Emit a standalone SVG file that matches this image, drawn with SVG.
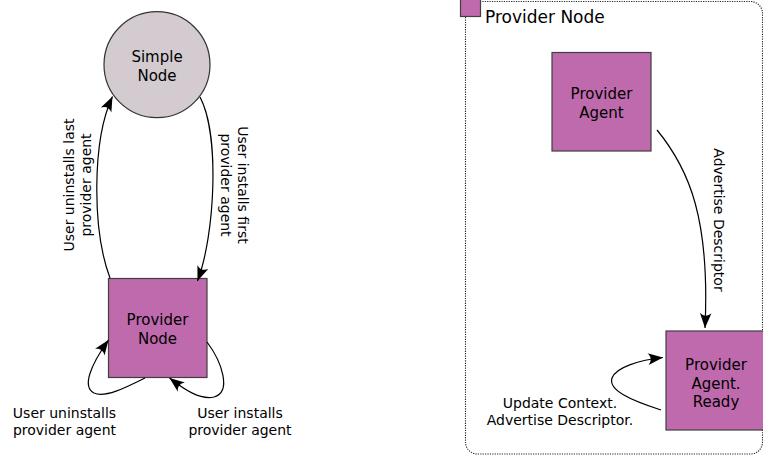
<svg xmlns="http://www.w3.org/2000/svg" width="763" height="456" viewBox="0 0 763 456">
<style>
  text { font-family: "DejaVu Sans", "Liberation Sans", sans-serif; fill: #000; }
  .nt { font-size: 15px; text-anchor: middle; }
  .lb { font-size: 14px; text-anchor: middle; }
  .box { fill: #bf6aad; stroke: #3f3f3f; stroke-width: 1.2; }
  .edge { fill: none; stroke: #000; stroke-width: 1.2; marker-end: url(#arr); }
</style>
<defs>
  <marker id="arr" markerUnits="userSpaceOnUse" orient="auto" viewBox="-16 -7 17 14" refX="0" refY="0" markerWidth="17" markerHeight="14" overflow="visible">
    <path d="M0,0 L-15,-5.8 C-11.5,-2 -11.5,2 -15,5.8 Z" fill="#000"/>
  </marker>
</defs>
<rect width="763" height="456" fill="#fff"/>

<g id="container">
  <rect x="465.5" y="1.5" width="297" height="452.5" rx="12" ry="12" fill="none" stroke="#222" stroke-width="1.1" stroke-dasharray="1.2,1.2"/>
  <rect x="460.5" y="-4" width="20" height="20.5" class="box"/>
  <text x="485" y="23" style="font-size:17px">Provider Node</text>
</g>

<g id="simple-node">
  <circle cx="157" cy="64.7" r="53" fill="#d3cbcf" stroke="#333" stroke-width="1.2"/>
  <text class="nt" x="157" y="62">Simple</text>
  <text class="nt" x="157" y="81">Node</text>
</g>

<g id="provider-node">
  <rect x="108.5" y="278.5" width="98.5" height="99" class="box"/>
  <text class="nt" x="157.5" y="324.5">Provider</text>
  <text class="nt" x="157.5" y="343.5">Node</text>
</g>

<g id="provider-agent">
  <rect x="552" y="52.5" width="99" height="98.5" class="box"/>
  <text class="nt" x="601.5" y="99">Provider</text>
  <text class="nt" x="601.5" y="117.5">Agent</text>
</g>

<g id="provider-agent-ready">
  <rect x="666" y="331" width="99" height="99" class="box"/>
  <text class="nt" x="716" y="370">Provider</text>
  <text class="nt" x="716" y="388.5">Agent.</text>
  <text class="nt" x="716" y="407">Ready</text>
</g>

<g id="connectors">
  <path class="edge" d="M110,278 C92,230 92,140 112.5,96.5"/>
  <path class="edge" d="M200,97 C220,135 215,235 197.5,281"/>
  <path class="edge" d="M145,378 C125,388 105,398 94,393 C82,387 90,366 108.5,340"/>
  <path class="edge" d="M207,342 C222,362 232,392 214,397 C200,400 185,390 169.5,378"/>
  <path class="edge" d="M657,130 C690,170 710,220 705,328"/>
  <path class="edge" d="M661,410 C630,400 608,390 612,378 C616,367 640,360 663,357.5"/>

  <text class="lb" transform="translate(74,185) rotate(-90)">User uninstalls last</text>
  <text class="lb" transform="translate(91,185) rotate(-90)">provider agent</text>
  <text class="lb" transform="translate(238,185) rotate(90)">User installs first</text>
  <text class="lb" transform="translate(221,185) rotate(90)">provider agent</text>
  <text class="lb" transform="translate(713.5,220) rotate(90)">Advertise Descriptor</text>

  <text class="lb" x="64.5" y="418">User uninstalls</text>
  <text class="lb" x="64.5" y="435">provider agent</text>
  <text class="lb" x="240" y="418">User installs</text>
  <text class="lb" x="240" y="435">provider agent</text>
  <text class="lb" x="560" y="408">Update Context.</text>
  <text class="lb" x="560" y="425">Advertise Descriptor.</text>
</g>
</svg>
